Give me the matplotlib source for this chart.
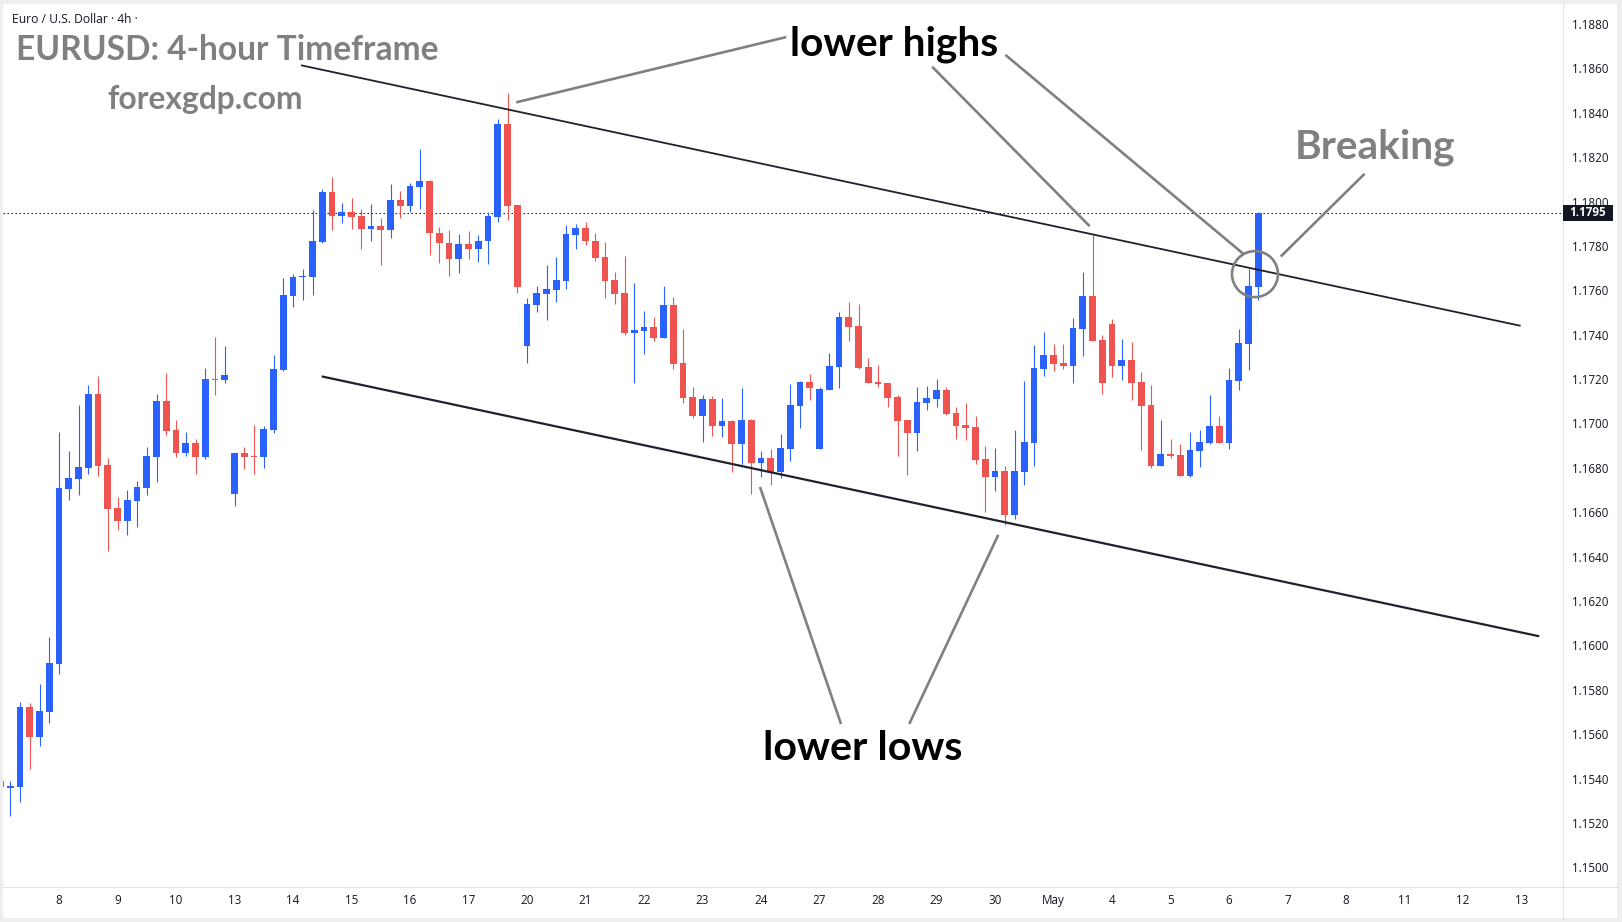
import numpy as np
import matplotlib
matplotlib.use("Agg")
import matplotlib.pyplot as plt
from matplotlib.patches import Rectangle, Ellipse
from matplotlib.lines import Line2D

# ---------------- data (EURUSD 4h candles) ----------------
opens = [1.15390, 1.15359, 1.15364, 1.15723, 1.15589, 1.15702, 1.15918, 1.16706, 1.16751, 1.16800,
         1.17133, 1.16813, 1.16619, 1.16562, 1.16652, 1.16711, 1.16851, 1.17101, 1.16971, 1.16869,
         1.16912, 1.16850, 1.17200, 1.17196, 1.16684, 1.16867, 1.16853, 1.16850, 1.16970, 1.17241,
         1.17576, 1.17660, 1.17661, 1.17819, 1.18043, 1.17936, 1.17951, 1.17935, 1.17878, 1.17890,
         1.17873, 1.18007, 1.17981, 1.18067, 1.18093, 1.17859, 1.17814, 1.17743, 1.17809, 1.17784,
         1.17820, 1.17932, 1.18350, 1.17985, 1.17351, 1.17536, 1.17585, 1.17603, 1.17644, 1.17851,
         1.17881, 1.17823, 1.17750, 1.17647, 1.17588, 1.17409, 1.17418, 1.17435, 1.17387, 1.17534,
         1.17273, 1.17119, 1.17035, 1.17110, 1.16990, 1.17011, 1.16909, 1.17016, 1.16823, 1.16844,
         1.16783, 1.16887, 1.17080, 1.17187, 1.16887, 1.17152, 1.17255, 1.17479, 1.17439, 1.17254,
         1.17186, 1.17182, 1.17119, 1.17015, 1.16958, 1.17093, 1.17111, 1.17150, 1.17047, 1.16994,
         1.16985, 1.16839, 1.16760, 1.16785, 1.16589, 1.16782, 1.16913, 1.17247, 1.17309, 1.17272,
         1.17260, 1.17427, 1.17574, 1.17376, 1.17448, 1.17260, 1.17286, 1.17187, 1.17083, 1.16810,
         1.16862, 1.16858, 1.16765, 1.16877, 1.16914, 1.16990, 1.16914, 1.17193, 1.17360, 1.17616]
highs = [1.15400, 1.15389, 1.15745, 1.15741, 1.15826, 1.16038, 1.16962, 1.16876, 1.17083, 1.17173,
         1.17214, 1.16845, 1.16669, 1.16700, 1.16741, 1.16894, 1.17133, 1.17227, 1.17016, 1.16962,
         1.16930, 1.17250, 1.17389, 1.17349, 1.16867, 1.16894, 1.16993, 1.16988, 1.17308, 1.17655,
         1.17673, 1.17696, 1.17962, 1.18056, 1.18110, 1.17993, 1.18016, 1.17966, 1.17989, 1.17926,
         1.18079, 1.18047, 1.18083, 1.18237, 1.18097, 1.17886, 1.17872, 1.17854, 1.17868, 1.17850,
         1.17952, 1.18372, 1.18489, 1.17985, 1.17566, 1.17620, 1.17714, 1.17750, 1.17895, 1.17899,
         1.17908, 1.17859, 1.17818, 1.17683, 1.17755, 1.17633, 1.17507, 1.17480, 1.17620, 1.17570,
         1.17426, 1.17164, 1.17128, 1.17124, 1.17115, 1.17016, 1.17160, 1.17020, 1.16877, 1.16886,
         1.16953, 1.17178, 1.17191, 1.17223, 1.17164, 1.17317, 1.17502, 1.17547, 1.17538, 1.17295,
         1.17263, 1.17182, 1.17128, 1.17015, 1.17164, 1.17168, 1.17200, 1.17164, 1.17074, 1.17092,
         1.17035, 1.16900, 1.16890, 1.16809, 1.16972, 1.17192, 1.17355, 1.17412, 1.17358, 1.17358,
         1.17475, 1.17683, 1.17849, 1.17399, 1.17471, 1.17381, 1.17367, 1.17232, 1.17173, 1.17017,
         1.16932, 1.16909, 1.16963, 1.16972, 1.17130, 1.17035, 1.17251, 1.17427, 1.17698, 1.17953]
lows = [1.15350, 1.15229, 1.15292, 1.15445, 1.15548, 1.15652, 1.15873, 1.16657, 1.16679, 1.16770,
        1.16765, 1.16427, 1.16522, 1.16499, 1.16535, 1.16679, 1.16738, 1.16950, 1.16851, 1.16855,
        1.16770, 1.16841, 1.17130, 1.17184, 1.16629, 1.16796, 1.16774, 1.16801, 1.16958, 1.17238,
        1.17526, 1.17558, 1.17580, 1.17814, 1.17873, 1.17905, 1.17878, 1.17787, 1.17824, 1.17715,
        1.17837, 1.17927, 1.17954, 1.17968, 1.17761, 1.17725, 1.17666, 1.17680, 1.17743, 1.17729,
        1.17720, 1.17910, 1.17919, 1.17590, 1.17274, 1.17504, 1.17468, 1.17549, 1.17608, 1.17788,
        1.17806, 1.17734, 1.17567, 1.17540, 1.17400, 1.17184, 1.17315, 1.17373, 1.17387, 1.17247,
        1.17094, 1.17026, 1.16918, 1.16945, 1.16941, 1.16783, 1.16819, 1.16684, 1.16760, 1.16724,
        1.16756, 1.16832, 1.16981, 1.17107, 1.16887, 1.17152, 1.17161, 1.17373, 1.17246, 1.17183,
        1.17165, 1.17075, 1.16854, 1.16769, 1.16877, 1.17062, 1.17075, 1.17039, 1.16931, 1.16927,
        1.16818, 1.16602, 1.16697, 1.16544, 1.16571, 1.16724, 1.16809, 1.17215, 1.17238, 1.17247,
        1.17184, 1.17305, 1.17373, 1.17134, 1.17211, 1.17197, 1.17107, 1.16882, 1.16801, 1.16810,
        1.16846, 1.16765, 1.16760, 1.16805, 1.16909, 1.16914, 1.16887, 1.17152, 1.17242, 1.17558]
closes = [1.15360, 1.15367, 1.15723, 1.15589, 1.15705, 1.15921, 1.16709, 1.16754, 1.16804, 1.17133,
          1.16810, 1.16616, 1.16562, 1.16655, 1.16714, 1.16854, 1.17101, 1.16968, 1.16869, 1.16912,
          1.16851, 1.17200, 1.17197, 1.17218, 1.16867, 1.16850, 1.16850, 1.16975, 1.17245, 1.17579,
          1.17660, 1.17664, 1.17822, 1.18043, 1.17936, 1.17951, 1.17932, 1.17878, 1.17890, 1.17873,
          1.18007, 1.17981, 1.18070, 1.18093, 1.17856, 1.17811, 1.17743, 1.17809, 1.17784, 1.17823,
          1.17935, 1.18350, 1.17982, 1.17617, 1.17539, 1.17588, 1.17606, 1.17647, 1.17854, 1.17881,
          1.17820, 1.17747, 1.17644, 1.17585, 1.17409, 1.17421, 1.17435, 1.17387, 1.17534, 1.17270,
          1.17116, 1.17035, 1.17110, 1.16990, 1.17011, 1.16909, 1.17016, 1.16823, 1.16844, 1.16783,
          1.16890, 1.17083, 1.17187, 1.17161, 1.17155, 1.17258, 1.17479, 1.17436, 1.17251, 1.17183,
          1.17179, 1.17116, 1.17012, 1.16958, 1.17096, 1.17114, 1.17150, 1.17044, 1.16990, 1.16981,
          1.16836, 1.16760, 1.16785, 1.16589, 1.16785, 1.16916, 1.17251, 1.17309, 1.17269, 1.17260,
          1.17430, 1.17574, 1.17373, 1.17184, 1.17260, 1.17286, 1.17184, 1.17080, 1.16810, 1.16862,
          1.16855, 1.16765, 1.16882, 1.16918, 1.16990, 1.16914, 1.17197, 1.17363, 1.17619, 1.17950]

last_price = 1.1795
price_ticks = [round(1.1500 + 0.002 * k, 4) for k in range(20)]
day_tick_pos = [6, 12, 18, 24, 30, 36, 42, 48, 54, 60, 66, 72, 78, 84, 90, 96, 102, 108, 114, 120,
                126, 132, 138, 144, 150, 156]
day_tick_labels = ["8", "9", "10", "13", "14", "15", "16", "17", "20", "21", "22", "23", "24", "27",
                   "28", "29", "30", "May", "4", "5", "6", "7", "8", "11", "12", "13"]

# annotation drawings (bar index, price)
upper_line = ([30.82, 155.9], [1.18614, 1.17440])
lower_line = ([32.94, 157.81], [1.17212, 1.16041])
pointer_lines = [
    ([52.89, 80.58], [1.18447, 1.18741]),
    ([95.56, 111.7], [1.18607, 1.17889]),
    ([103.06, 127.5], [1.18661, 1.17763]),
    ([139.9, 131.3], [1.18125, 1.17752]),
    ([86.2, 77.89], [1.15646, 1.16714]),
    ([93.2, 102.33], [1.15646, 1.16498]),
]
circle_center = (128.66, 1.17673)

# ---------------- figure ----------------
W, H = 1622, 922
fig = plt.figure(figsize=(W / 100, H / 100), dpi=100)
fig.patch.set_facecolor("#eeeeee")
fig.patches.append(Rectangle((3 / W, 1 - 918 / H), (1617 - 3) / W, (918 - 4) / H,
                             transform=fig.transFigure, facecolor="white", edgecolor="none", zorder=-5))

PX_L, PX_R, PX_T, PX_B = 3, 1563, 4, 887
ax = fig.add_axes([PX_L / W, 1 - PX_B / H, (PX_R - PX_L) / W, (PX_B - PX_T) / H])
ax.set_facecolor("white")

BAR_PX = 9.75
x0 = 0.55
ax.set_xlim((PX_L - x0) / BAR_PX, (PX_R - x0) / BAR_PX)
PPX = 22192.0
ax.set_ylim(1.1880 - (PX_B - 24) / PPX, 1.1880 + (24 - PX_T) / PPX)

UP, DOWN = "#2962FF", "#EF5350"
o = np.array(opens); h = np.array(highs); l = np.array(lows); c = np.array(closes)
idx = np.arange(len(o))
cols = [UP if cc >= oo else DOWN for oo, cc in zip(o, c)]
ax.vlines(idx, l, h, colors=cols, linewidth=0.8, zorder=2)
bottoms = np.minimum(o, c)
heights = np.maximum(np.abs(c - o), 0.00005)
ax.bar(idx, heights, width=0.69, bottom=bottoms, color=cols, linewidth=0, zorder=3)

# last price dotted line
ax.axhline(last_price, color="#131722", linewidth=0.8, linestyle=(0, (1.3, 2.3)), zorder=1)

# trend lines
ax.plot(*upper_line, color="#1e222d", linewidth=1.3, zorder=4, solid_capstyle="butt")
ax.plot(*lower_line, color="#1e222d", linewidth=1.6, zorder=4, solid_capstyle="butt")
for xs, ys in pointer_lines:
    ax.plot(xs, ys, color="#808080", linewidth=1.9, zorder=5, solid_capstyle="butt")
ax.add_patch(Ellipse(circle_center, width=46 / BAR_PX, height=46 / PPX, fill=False,
                     edgecolor="#808080", linewidth=1.9, zorder=5))

for s in ax.spines.values():
    s.set_visible(False)

AXFONT = ["Open Sans", "DejaVu Sans"]
ax.yaxis.tick_right()
ax.set_yticks(price_ticks)
ax.set_yticklabels([f"{v:.4f}" for v in price_ticks])
ax.tick_params(axis="y", length=0, pad=6.3, labelsize=8.4, labelcolor="#131722")
ax.set_xticks(day_tick_pos)
ax.set_xticklabels(day_tick_labels)
ax.tick_params(axis="x", length=0, pad=4.8, labelsize=8.4, labelcolor="#131722")
for t in ax.get_xticklabels() + ax.get_yticklabels():
    t.set_fontfamily(AXFONT)

# dividers
fig.lines.append(Line2D([PX_R / W, PX_R / W], [1 - 918 / H, 1 - PX_T / H], transform=fig.transFigure,
                        color="#e0e3eb", linewidth=0.8, zorder=1))
fig.lines.append(Line2D([PX_L / W, 1617 / W], [1 - PX_B / H, 1 - PX_B / H], transform=fig.transFigure,
                        color="#e0e3eb", linewidth=0.8, zorder=1))

# last price label on scale
fig.patches.append(Rectangle((PX_R / W, 1 - 221 / H), 50 / W, 16 / H, transform=fig.transFigure,
                             facecolor="#131722", edgecolor="none", zorder=2))
fig.text(1588 / W, 1 - 213 / H, f"{last_price:.4f}", color="white", fontsize=8.4, fontweight="bold",
         ha="center", va="center", family=AXFONT, zorder=3)

# ---------------- texts ----------------
fig.canvas.draw()
renderer = fig.canvas.get_renderer()


def fit_text(s, x, base_y, width, color, ha="center", weight="bold", family=("Lato", "DejaVu Sans"),
             grow=1.03):
    t = fig.text(x / W, 1 - base_y / H, s, fontsize=20, ha=ha, va="baseline", color=color,
                 fontweight=weight, family=list(family), zorder=6)
    bb = t.get_window_extent(renderer)
    t.set_fontsize(20 * width / bb.width * grow)
    return t


fit_text("Euro / U.S. Dollar · 4h ·", 11.7, 23.3, 126.6, "#131722", ha="left", weight="normal",
         family=("Open Sans", "DejaVu Sans"), grow=1.0)
fit_text("EURUSD: 4-hour Timeframe", 16.5, 59.5, 411, "#808080", ha="left")
fit_text("forexgdp.com", 205, 109.5, 190, "#808080")
fit_text("lower highs", 894, 55.5, 202, "#000000")
fit_text("lower lows", 863, 760, 193, "#000000")
fit_text("Breaking", 1374.7, 158, 156, "#808080")

fig.savefig("out.png", dpi=100, facecolor=fig.get_facecolor())
